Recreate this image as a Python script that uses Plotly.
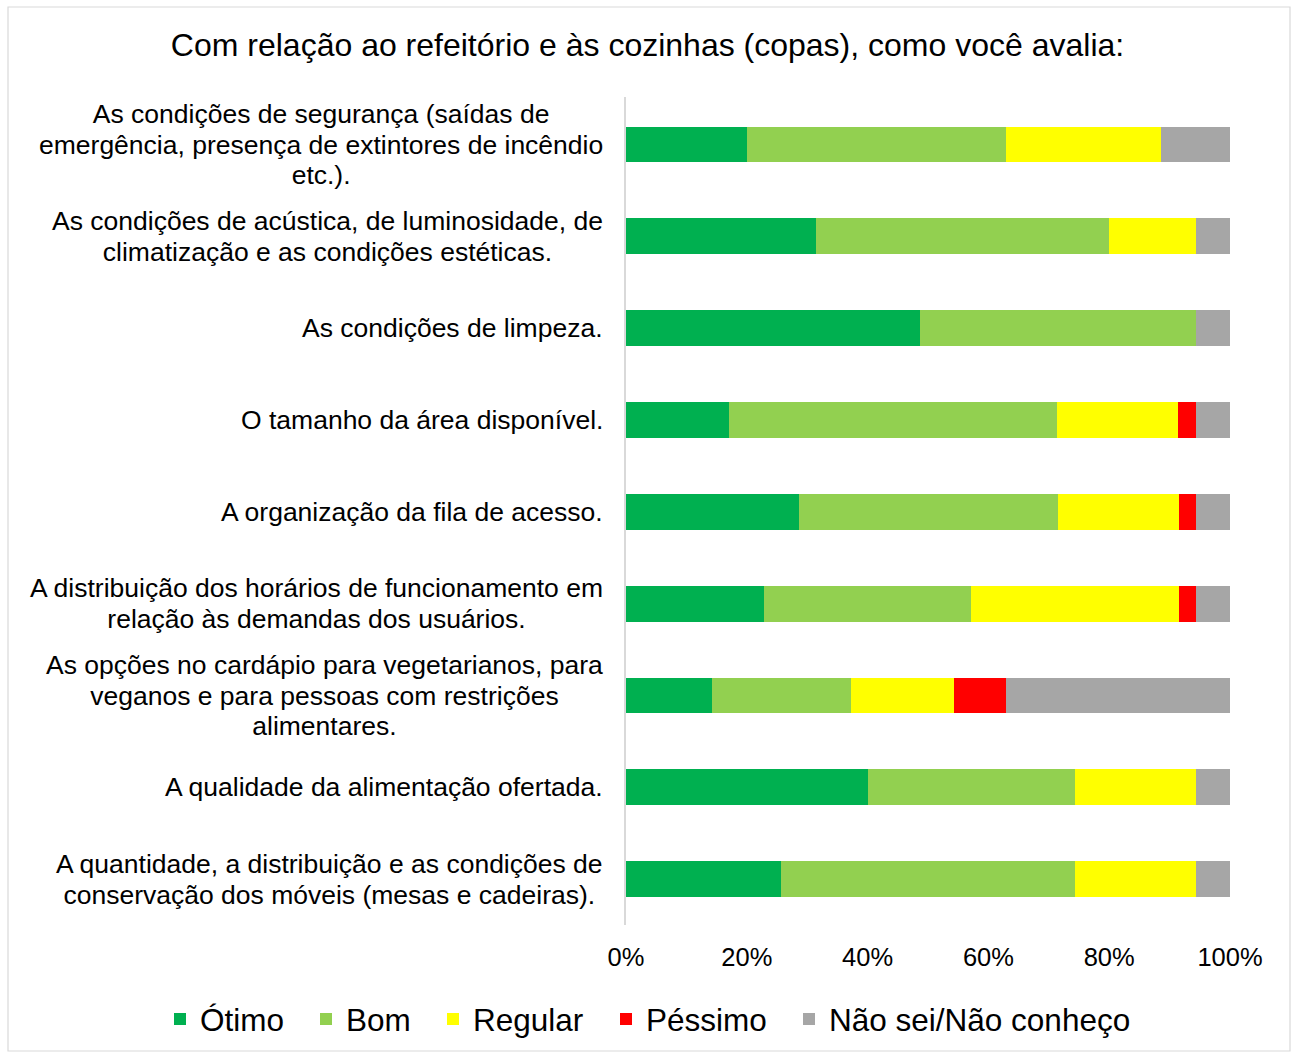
import plotly.graph_objects as go

# Category labels (top to bottom), split into display lines
categories = [
    "As condições de segurança (saídas de emergência, presença de extintores de incêndio etc.).",
    "As condições de acústica, de luminosidade, de climatização e as condições estéticas.",
    "As condições de limpeza.",
    "O tamanho da área disponível.",
    "A organização da fila de acesso.",
    "A distribuição dos horários de funcionamento em relação às demandas dos usuários.",
    "As opções no cardápio para vegetarianos, para veganos e para pessoas com restrições alimentares.",
    "A qualidade da alimentação ofertada.",
    "A quantidade, a distribuição e as condições de conservação dos móveis (mesas e cadeiras).",
]
label_lines = [
    ["As condições de segurança (saídas de", "emergência, presença de extintores de incêndio", "etc.)."],
    ["As condições de acústica, de luminosidade, de", "climatização e as condições estéticas."],
    ["As condições de limpeza."],
    ["O tamanho da área disponível."],
    ["A organização da fila de acesso."],
    ["A distribuição dos horários de funcionamento em", "relação às demandas dos usuários."],
    ["As opções no cardápio para vegetarianos, para", "veganos e para pessoas com restrições", "alimentares."],
    ["A qualidade da alimentação ofertada."],
    ["A quantidade, a distribuição e as condições de", "conservação dos móveis (mesas e cadeiras)."],
]

# Percentages per series
otimo    = [20.0, 31.4, 48.6, 17.1, 28.6, 22.9, 14.3, 40.0, 25.7]
bom      = [42.9, 48.6, 45.7, 54.3, 42.9, 34.3, 22.9, 34.3, 48.6]
regular  = [25.7, 14.3, 0.0, 20.0, 20.0, 34.3, 17.1, 20.0, 20.0]
pessimo  = [0.0, 0.0, 0.0, 2.9, 2.9, 2.9, 8.6, 0.0, 0.0]
naosei   = [11.4, 5.7, 5.7, 5.7, 5.7, 5.7, 37.1, 5.7, 5.7]

series_names = ["Ótimo", "Bom", "Regular", "Péssimo", "Não sei/Não conheço"]
series_values = [otimo, bom, regular, pessimo, naosei]
series_colors = ["#00B050", "#92D050", "#FFFF00", "#FF0000", "#A6A6A6"]

x_ticks = [0, 20, 40, 60, 80, 100]
x_ticktext = ["0%", "20%", "40%", "60%", "80%", "100%"]

FONT = "Liberation Sans, Arial, sans-serif"

# pixel geometry of the plot area
L, R, T, B, W, H = 626, 65, 97, 130, 1295, 1055
PW, PH = W - L - R, H - T - B

legend_ids = ["legend", "legend2", "legend3", "legend4", "legend5"]
legend_px = [160, 306, 433, 606, 789]

fig = go.Figure()
for name, vals, col, lid in zip(series_names, series_values, series_colors, legend_ids):
    fig.add_trace(go.Bar(
        y=categories, x=vals, name=name, orientation="h",
        marker=dict(color=col, line=dict(width=0)),
        hoverinfo="x+name", legend=lid,
    ))

annotations = []
for cat, lines in zip(categories, label_lines):
    txt = "<br>".join("<span style='font-size:26.5px'>%s</span>" % l for l in lines)
    annotations.append(dict(
        x=0, xref="paper", y=cat, yref="y",
        xanchor="right", yanchor="middle", xshift=-21,
        text=txt, align="center", showarrow=False,
        font=dict(family=FONT, size=23.5, color="#000000"),
    ))

# figure border
shapes = [dict(type="rect", xref="paper", yref="paper",
               x0=(8 - L) / PW, x1=(1290 - L) / PW,
               y0=(PH + T - 1051) / PH, y1=(PH + T - 7) / PH,
               line=dict(color="#D9D9D9", width=1.2), fillcolor="rgba(0,0,0,0)", layer="below")]

legend_layout = {}
for lid, px in zip(legend_ids, legend_px):
    legend_layout[lid] = dict(
        orientation="h", xref="paper", x=(px - L) / PW, xanchor="left",
        yref="paper", y=(PH + T - 1019) / PH, yanchor="middle",
        font=dict(family=FONT, size=31.5, color="#000000"),
        bgcolor="rgba(0,0,0,0)", itemclick=False,
    )

fig.update_layout(
    barmode="stack",
    bargap=0.61,
    width=W, height=H,
    autosize=False,
    margin=dict(l=L, r=R, t=T, b=B, autoexpand=False),
    paper_bgcolor="white", plot_bgcolor="white",
    font=dict(family=FONT, color="#000000"),
    title=dict(text="Com relação ao refeitório e às cozinhas (copas), como você avalia:",
               x=0.5, xref="container", xanchor="center",
               y=1 - 45 / H, yref="container", yanchor="middle",
               font=dict(family=FONT, size=32, color="#000000")),
    xaxis=dict(range=[0, 100], tickvals=x_ticks, ticktext=x_ticktext,
               showgrid=False, zeroline=False, showline=False, ticks="",
               ticklabelstandoff=14,
               tickfont=dict(family=FONT, size=25.5, color="#000000"), fixedrange=True),
    yaxis=dict(categoryorder="array", categoryarray=categories, autorange="reversed",
               showticklabels=False, showgrid=False, zeroline=False,
               showline=True, linecolor="#D9D9D9", linewidth=2, ticks="", fixedrange=True),
    annotations=annotations,
    shapes=shapes,
    showlegend=True,
    **legend_layout,
)

fig.write_html("out.html", config={"displayModeBar": False},
               post_script="document.body.style.margin='0';document.body.style.padding='0';")
